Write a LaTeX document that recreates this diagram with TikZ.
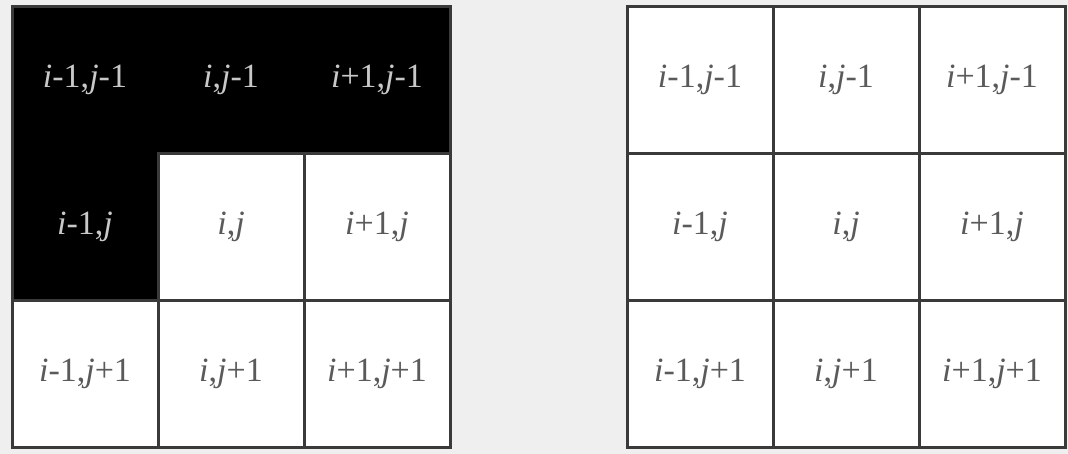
\documentclass[tikz,border=0pt]{standalone}
\usepackage{fontspec}
\setmainfont{Liberation Serif}
\definecolor{bggray}{HTML}{EFEFEF}
\definecolor{linegray}{HTML}{3A3A3A}
\definecolor{txtdark}{HTML}{5A5A5A}
\definecolor{txtlight}{HTML}{C8C8C8}
\tikzset{
  cellbase/.style={minimum width=146pt, minimum height=146.7pt, inner sep=0pt, font=\fontsize{34}{40}\selectfont},
  cell/.style={cellbase, draw=linegray, line width=3pt, fill=white, text=txtdark},
  darkcell/.style={cellbase, text=txtlight}
}
\newcommand{\lbl}[2]{\textit{i}#1,\textit{j}#2}
\begin{document}
\begin{tikzpicture}[x=1pt,y=-1pt]
\fill[bggray] (0,0) rectangle (1068,454);
\useasboundingbox (0,0) rectangle (1068,454);
% dark L-shaped region of the left grid
\filldraw[fill=black, draw=linegray, line width=3pt]
  (12,7) -- (450,7) -- (450,153.7) -- (158,153.7) -- (158,300.4) -- (12,300.4) -- cycle;
% left grid
\node[darkcell] (La) at (85,80.35) {\lbl{-1}{-1}};
\node[darkcell] (Lb) at (231,80.35) {\lbl{}{-1}};
\node[darkcell] (Lc) at (377,80.35) {\lbl{+1}{-1}};
\node[darkcell] (Ld) at (85,227.05) {\lbl{-1}{}};
\node[cell] (Le) at (231,227.05) {\lbl{}{}};
\node[cell] (Lf) at (377,227.05) {\lbl{+1}{}};
\node[cell] (Lg) at (85,373.75) {\lbl{-1}{+1}};
\node[cell] (Lh) at (231,373.75) {\lbl{}{+1}};
\node[cell] (Li) at (377,373.75) {\lbl{+1}{+1}};
% right grid
\node[cell] (Ra) at (700,80.35) {\lbl{-1}{-1}};
\node[cell] (Rb) at (846,80.35) {\lbl{}{-1}};
\node[cell] (Rc) at (992,80.35) {\lbl{+1}{-1}};
\node[cell] (Rd) at (700,227.05) {\lbl{-1}{}};
\node[cell] (Re) at (846,227.05) {\lbl{}{}};
\node[cell] (Rf) at (992,227.05) {\lbl{+1}{}};
\node[cell] (Rg) at (700,373.75) {\lbl{-1}{+1}};
\node[cell] (Rh) at (846,373.75) {\lbl{}{+1}};
\node[cell] (Ri) at (992,373.75) {\lbl{+1}{+1}};
\end{tikzpicture}
\end{document}
